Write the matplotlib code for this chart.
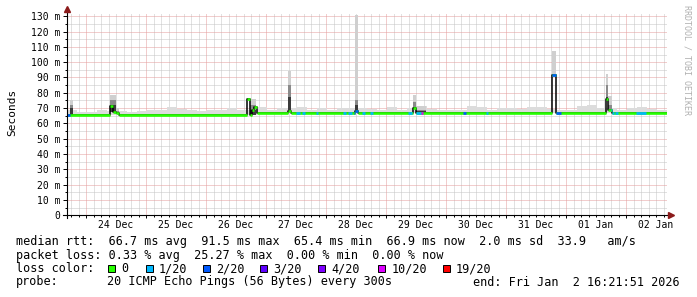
import datetime as dt
import numpy as np
import matplotlib
matplotlib.use("Agg")
import matplotlib.pyplot as plt
from matplotlib.patches import Rectangle

matplotlib.rcParams['font.family'] = "DejaVu Sans Mono"
matplotlib.rcParams['lines.scale_dashes'] = False

# ---------------- data (hours from graph start) ----------------
start = dt.datetime(2025, 12, 23, 16, 21, 51)
span_h = 240.0

# median rtt, piecewise constant: segment start (h) and value (ms)
med_t = [0.0, 17.2, 18.4, 19.6, 20.8, 72.0, 73.2, 74.0, 74.8, 75.8,
         88.4, 89.6, 115.2, 116.4, 138.4, 139.6, 194.0, 195.6,
         215.4, 216.4, 218.0]
med_v = [65.5, 71.3, 67.5, 66.5, 65.5, 76.0, 65.5, 69.0, 71.0, 67.0,
         68.0, 67.0, 68.0, 67.0, 70.0, 67.0, 91.5, 67.0,
         76.0, 68.7, 67.0]

# background smoke top, 4 h bins
smoke_bg = [69.0, 67.7, 67.7, 68.7, 68.0, 68.0, 67.7, 68.0, 68.5, 68.5,
            70.5, 69.5, 68.7, 68.0, 68.7, 69.0, 70.0, 68.7, 68.5, 70.5,
            69.0, 70.0, 70.0, 70.5, 69.0, 70.0, 69.0, 70.0, 70.0, 70.0,
            69.5, 69.0, 70.5, 69.0, 70.0, 71.4, 69.5, 69.0, 68.7, 69.0,
            71.3, 70.5, 69.0, 70.0, 70.0, 69.5, 71.0, 71.0, 69.5, 69.0,
            69.0, 71.3, 72.0, 70.0, 70.0, 69.0, 70.0, 71.0, 69.5, 69.0]

# smoke around the spikes
spk_t0 = [1.2, 17.2, 19.6, 72.0, 73.2, 88.4, 115.2, 138.4, 139.6, 194.0, 215.4, 216.4]
spk_t1 = [2.4, 19.6, 20.8, 73.2, 75.6, 89.6, 116.4, 139.6, 143.6, 195.6, 216.4, 218.0]
spk_light = [75.0, 78.5, 70.0, 76.4, 75.7, 94.0, 131.0, 78.5, 71.5, 107.3, 92.3, 78.0]
spk_mid = [72.0, 75.0, 68.0, 76.0, 72.0, 85.0, 75.0, 74.0, 69.0, 72.0, 85.0, 72.0]
spk_dark = [70.0, 72.0, 67.0, 74.0, 69.0, 77.0, 72.0, 71.0, 68.0, 69.0, 77.0, 69.0]

# packet loss periods (pings lost out of 20)
loss_t0 = [0.0, 91.6, 94.0, 99.6, 110.4, 112.4, 114.8, 118.0, 121.2, 136.4,
           139.6, 141.6, 158.4, 167.6, 194.0, 195.6, 217.6, 219.2, 227.6]
loss_t1 = [1.2, 93.2, 95.2, 100.4, 111.6, 114.0, 116.4, 119.2, 122.4, 138.0,
           141.6, 142.4, 159.6, 168.4, 195.6, 197.6, 218.8, 220.4, 231.6]
loss_n = [2, 1, 1, 1, 1, 1, 2, 1, 1, 1, 1, 10, 2, 1, 2, 2, 1, 1, 1]

loss_levels = [0, 1, 2, 3, 4, 10, 19]
loss_labels = ['0', '1/20', '2/20', '3/20', '4/20', '10/20', '19/20']
loss_colors = ['#26ff00', '#00b8ff', '#0059ff', '#5e00ff', '#7e00ff', '#dd00ff', '#ff0000']
loss_col = dict(zip(loss_levels, loss_colors))

y_ticks = list(range(0, 131, 10))
y_labels = [("%d m" % v) if v else "0" for v in y_ticks]

legend_lines = [
    "median rtt:  66.7 ms avg  91.5 ms max  65.4 ms min  66.9 ms now  2.0 ms sd  33.9   am/s",
    "packet loss: 0.33 % avg  25.27 % max  0.00 % min  0.00 % now",
]
probe_txt = "20 ICMP Echo Pings (56 Bytes) every 300s"
end_txt = "end: Fri Jan  2 16:21:51 2026"

# ---------------- helpers ----------------
edges = np.r_[med_t, span_h]


def hours(d):
    return (d - start).total_seconds() / 3600.0


def pieces(t0, t1):
    out = []
    for a, b, v in zip(edges[:-1], edges[1:], med_v):
        lo, hi = max(a, t0), min(b, t1)
        if hi > lo:
            out.append((lo, hi, v))
    return out


def base(t0, t1):
    return min(p[2] for p in pieces(t0, t1))


W, H = 697, 297
fig = plt.figure(figsize=(W / 100, H / 100), dpi=100)
fig.patch.set_facecolor('white')
ax = fig.add_axes([67 / W, (H - 215.3) / H, 600 / W, 202.3 / H])
ax.set_xlim(0, span_h)
ax.set_ylim(0, 132.1)
for s in ax.spines.values():
    s.set_visible(False)

# grid
days = [dt.datetime(2025, 12, 24) + dt.timedelta(days=i) for i in range(10)]
midn = [hours(d) for d in days]
first3 = hours(dt.datetime(2025, 12, 23, 18))
minor3 = [first3 + 3 * k for k in range(80) if first3 + 3 * k < span_h]
minor3 = [m for m in minor3 if min(abs(m - x) for x in midn) > 0.1]

dot = (0, (0.72, 0.72))
ax.vlines(minor3, 0, 132.1, colors='#c4c4c4', linestyles=dot, lw=0.72, zorder=1)
ax.hlines(np.arange(5, 130, 10), 0, span_h, colors='#c4c4c4', linestyles=dot,
          lw=0.72, zorder=1)
ax.vlines(midn, 0, 132.1, colors='#e49c9c', linestyles=dot, lw=0.72, zorder=1)
ax.hlines(y_ticks[1:], 0, span_h, colors='#e49c9c', linestyles=dot, lw=0.72,
          zorder=1)

# background smoke
bw = span_h / len(smoke_bg)
for i, top in enumerate(smoke_bg):
    b = base(i * bw, (i + 1) * bw)
    ax.bar(i * bw, top - b, width=bw, bottom=b, align='edge', color='#dcdcdc',
           linewidth=0, zorder=2)

# spike smoke
for t0, t1, lt, md, dk in zip(spk_t0, spk_t1, spk_light, spk_mid, spk_dark):
    b = base(t0, t1)
    for top, c in ((lt, '#cfcfcf'), (md, '#8a8a8a'), (dk, '#3a3a3a')):
        if top > b:
            ax.bar(t0, top - b, width=t1 - t0, bottom=b, align='edge', color=c,
                   linewidth=0, zorder=2)

# median line: black transitions, coloured by loss
ax.step(edges, np.r_[med_v, med_v[-1]], where='post', color='black', lw=1.1,
        zorder=3)
for a, b, v in pieces(0, span_h):
    ax.hlines(v, a, b, colors=loss_col[0], lw=1.9, zorder=4)
for t0, t1, n in zip(loss_t0, loss_t1, loss_n):
    for a, b, v in pieces(t0, t1):
        ax.hlines(v, a, b, colors=loss_col[n], lw=1.9, zorder=5)

# ticks
ax.set_yticks(y_ticks)
ax.set_yticklabels(y_labels)
ax.set_yticks(np.arange(5, 130, 10), minor=True)
ax.set_xticks(midn)
ax.set_xticklabels([])
ax.set_xticks(minor3, minor=True)
ax.tick_params(axis='y', which='major', length=3, width=0.7, labelsize=7, pad=2)
ax.tick_params(axis='y', which='minor', length=1.5, width=0.7)
ax.tick_params(axis='x', which='major', length=2.5, width=0.7)
ax.tick_params(axis='x', which='minor', length=1.2, width=0.7)

for d, m in zip(days, midn):
    ax.text(m + 12, -10 / 202.3, d.strftime('%d %b'), transform=ax.get_xaxis_transform(),
            ha='center', va='center', fontsize=7)

# axes with arrows
ax.plot([-1.8, 241.2], [0, 0], color='black', lw=0.8, clip_on=False, zorder=6)
ax.plot([0, 0], [-1.8, 133.0], color='black', lw=0.8, clip_on=False, zorder=6)
ax.plot([241.6], [0], marker='>', color='#8b1a1a', ms=5, clip_on=False, zorder=7)
ax.plot([0], [134.6], marker='^', color='#8b1a1a', ms=5, clip_on=False, zorder=7)

# side texts
fig.text(12 / W, 1 - 112 / H, "Seconds", rotation=90, ha='center', va='center',
         fontsize=8)
fig.text(687 / W, 1 - 60 / H, "RRDTOOL / TOBI OETIKER", rotation=270, ha='center',
         va='center', fontsize=6, color='#b0b0b0')

# legend
fs = 8.5
fig.text(16 / W, 1 - 241 / H, legend_lines[0], va='center', fontsize=fs)
fig.text(16 / W, 1 - 255 / H, legend_lines[1], va='center', fontsize=fs)
fig.text(16 / W, 1 - 268.7 / H, "loss color:", va='center', fontsize=fs)
sq_x = [108, 145.7, 203.3, 260, 318, 378.3, 442.7]
for x, c, lab in zip(sq_x, loss_colors, loss_labels):
    fig.add_artist(Rectangle((x / W, 1 - 272 / H), 7 / W, 7 / H, transform=fig.transFigure,
                             facecolor=c, edgecolor='black', lw=0.7))
    fig.text((x + 13) / W, 1 - 268.7 / H, lab, va='center', fontsize=fs)
fig.text(16 / W, 1 - 282 / H, "probe:", va='center', fontsize=fs)
fig.text(107 / W, 1 - 282 / H, probe_txt, va='center', fontsize=fs)
fig.text(680 / W, 1 - 282 / H, end_txt, va='center', ha='right', fontsize=fs)

fig.savefig("out.png", dpi=100)
